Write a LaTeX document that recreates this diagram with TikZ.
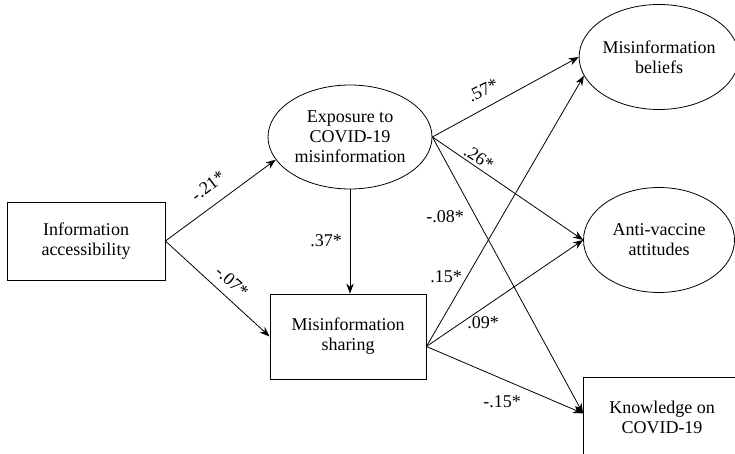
\documentclass[tikz,border=0pt]{standalone}
\usepackage{fontspec}
\setmainfont{Liberation Serif}
\usetikzlibrary{shapes.geometric,arrows.meta}
\begin{document}
\begin{tikzpicture}[x=1pt,y=-1pt,
  every node/.style={font=\fontsize{18}{20}\selectfont, align=center, inner sep=0pt},
  boxnode/.style={draw, line width=0.8pt, rectangle},
  ovalnode/.style={draw, line width=0.8pt, ellipse},
  conn/.style={line width=0.8pt, -{Stealth[length=10pt,width=7.5pt]}},
  lbl/.style={}]
\clip (0,0) rectangle (735,454);
% nodes
\node[boxnode, minimum width=158pt, minimum height=78pt] (info) at (86,241) {Information\\accessibility};
\node[ovalnode, minimum width=164pt, minimum height=104pt] (expo) at (350,137) {Exposure to\\COVID-19\\misinformation};
\node[boxnode, minimum width=156pt, minimum height=85pt] (share) at (348,336.5) {Misinformation\\sharing};
\node[ovalnode, minimum width=151pt, minimum height=105pt] (belief) at (659,57) {Misinformation\\beliefs};
\node[ovalnode, minimum width=151pt, minimum height=105pt] (anti) at (659,240) {Anti-vaccine\\attitudes};
\node[boxnode, minimum width=160pt, minimum height=84pt, anchor=north west] (know) at (583,377) {};
\node (knowtext) at (662,417) {Knowledge on\\COVID-19};
\coordinate (shout) at ([yshift=-10pt]share.east);
\coordinate (knin) at ([yshift=6pt]know.west);
% connectors
\draw[conn] (info.east) -- (expo.197);
\draw[conn] (info.east) -- (share.west);
\draw[conn] (expo.south) -- (expo.south |- share.north);
\draw[conn] (expo.east) -- (belief.west);
\draw[conn] (expo.east) -- (anti.west);
\draw[conn] (expo.east) -- (knin);
\draw[conn] (shout) -- (belief.194);
\draw[conn] (shout) -- (anti.west);
\draw[conn] (shout) -- (knin);
% labels
\node[lbl, rotate=37.5] (l1) at (208,186) {-.21*};
\node[lbl, rotate=-42] (l2) at (232,282) {-.07*};
\node[lbl] (l3) at (326,241) {.37*};
\node[lbl, rotate=26] (l4) at (483,90) {.57*};
\node[lbl, rotate=-33] (l5) at (479,158) {.26*};
\node[lbl] (l6) at (445,217) {-.08*};
\node[lbl] (l7) at (446,277) {.15*};
\node[lbl] (l8) at (483,323) {.09*};
\node[lbl] (l9) at (502,402) {-.15*};
\end{tikzpicture}
\end{document}
